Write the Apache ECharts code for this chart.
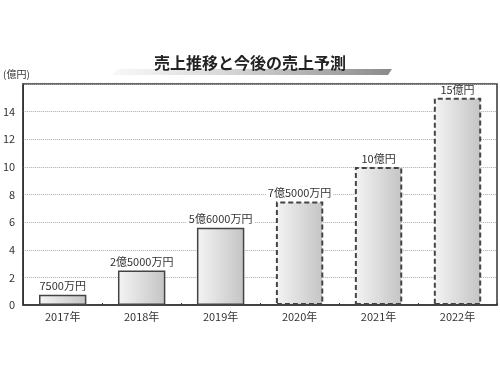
<!DOCTYPE html>
<html><head><meta charset="utf-8">
<script src="https://cdn.jsdelivr.net/npm/echarts@6/dist/echarts.min.js"></script>
<style>html,body{margin:0;padding:0;background:#fff}#c{width:500px;height:375px}</style>
</head><body><div id="c"></div>
<script>
const categories = ['2017年','2018年','2019年','2020年','2021年','2022年'];
const values = [0.75, 2.5, 5.6, 7.5, 10, 15];
const valueLabels = ['7500万円','2億5000万円','5億6000万円','7億5000万円','10億円','15億円'];
const forecast = [false, false, false, true, true, true];
const titleText = '売上推移と今後の売上予測';
const unitText = '(億円)';

const font = '"Noto Sans CJK JP", "Noto Sans", sans-serif';
const grad = new echarts.graphic.LinearGradient(0,0,1,0,[
  {offset:0,color:'#f4f4f4'},{offset:1,color:'#c4c4c4'}]);
const chart = echarts.init(document.getElementById('c'));
chart.setOption({
  animation:false,
  backgroundColor:'#fff',
  graphic:[
    {type:'polygon', z:0, shape:{points:[[118,69],[392,69],[388,75],[112,75]]},
     style:{fill:new echarts.graphic.LinearGradient(0,0,1,0,[
       {offset:0,color:'rgba(220,220,220,0.2)'},{offset:0.4,color:'#d8d8d8'},{offset:1,color:'#8a8a8a'}])}},
    {type:'text', z:2, left:'center', top:55, style:{text:titleText, font:'bold 16px '+font, fill:'#222'}},
    {type:'text', left:3, top:69, style:{text:unitText, font:'10px '+font, fill:'#333'}}
  ],
  grid:{left:22,right:3,top:84,bottom:70,show:true,borderColor:'#333',borderWidth:1.5},
  xAxis:{type:'category',data:categories,
    axisLine:{lineStyle:{color:'#333',width:1.5}},
    axisTick:{show:true,inside:true,length:2,lineStyle:{color:'#333'}},
    axisLabel:{color:'#333',fontSize:11,fontFamily:font,margin:6}},
  yAxis:{type:'value',min:0,max:16,interval:2,
    axisLine:{show:true,lineStyle:{color:'#333',width:1.5}},
    axisTick:{show:false},
    axisLabel:{color:'#333',fontSize:11,fontFamily:font,margin:8,
      formatter:v=>v===16?'':String(v)},
    splitLine:{lineStyle:{color:'#aaa',type:'dotted',width:1}}},
  series:[{type:'bar',barWidth:'60%',
    data:values.map((v,i)=>({value:v,
      itemStyle:{color:grad,borderColor:'#444',borderWidth:forecast[i]?2:1.5,
        borderType:forecast[i]?[5,3]:'solid'},
      label:{show:true,position:'top',distance:3,formatter:valueLabels[i],
        color:'#333',fontSize:11,fontFamily:font,
        backgroundColor:i===values.length-1?'transparent':'#fff',padding:[0,2]}}))}]
});
</script></body></html>
